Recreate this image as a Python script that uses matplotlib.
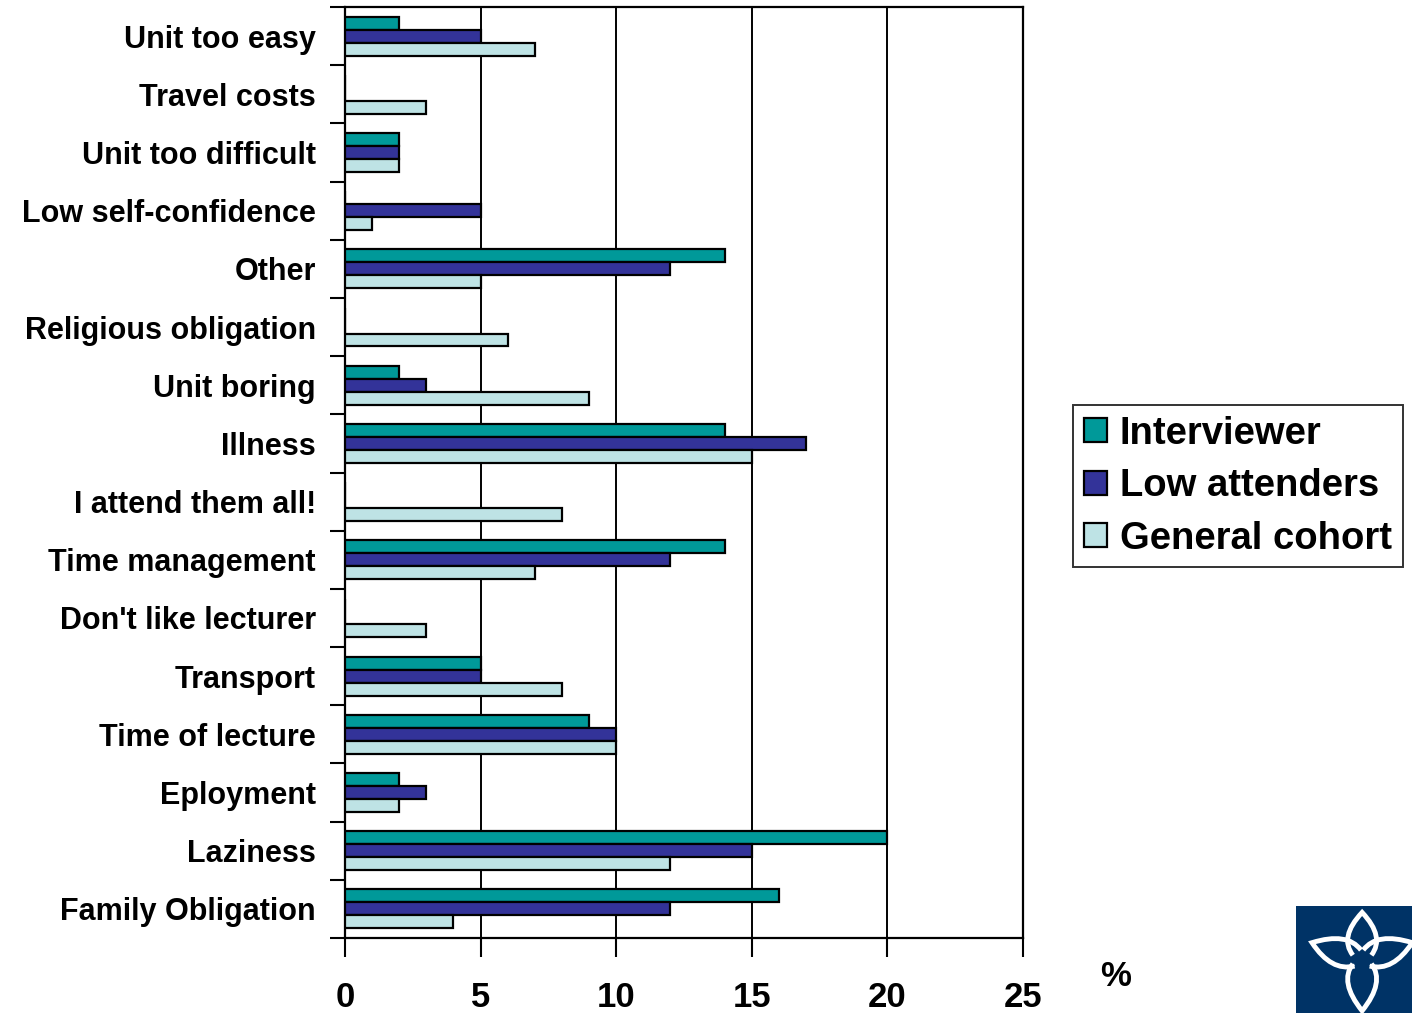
import numpy as np
import matplotlib.pyplot as plt
from matplotlib.path import Path
from matplotlib.patches import PathPatch

plt.rcParams['font.family'] = ['Liberation Sans', 'DejaVu Sans']
plt.rcParams['font.weight'] = 'bold'

categories = ['Unit too easy', 'Travel costs', 'Unit too difficult',
              'Low self-confidence', 'Other', 'Religious obligation',
              'Unit boring', 'Illness', 'I attend them all!',
              'Time management', "Don't like lecturer", 'Transport',
              'Time of lecture', 'Eployment', 'Laziness', 'Family Obligation']
interviewer = [2, 0, 2, 0, 14, 0, 2, 14, 0, 14, 0, 5, 9, 2, 20, 16]
low_attenders = [5, 0, 2, 5, 12, 0, 3, 17, 0, 12, 0, 5, 10, 3, 15, 12]
general_cohort = [7, 3, 2, 1, 5, 6, 9, 15, 8, 7, 3, 8, 10, 2, 12, 4]
series_names = ['Interviewer', 'Low attenders', 'General cohort']
colors = ['#009999', '#333399', '#BEE3E5']
x_ticks = [0, 5, 10, 15, 20, 25]

fig = plt.figure(figsize=(14.12, 10.13), dpi=100)
ax = fig.add_axes([345 / 1412, 1 - 938 / 1013, (1023 - 345) / 1412, (938 - 7) / 1013])

y = np.arange(len(categories))
h = 0.223
for k, (vals, name, col) in enumerate(zip([interviewer, low_attenders, general_cohort],
                                          series_names, colors)):
    ax.barh(y + (k - 1) * h, vals, height=h, color=col, edgecolor='black',
            linewidth=1.6, label=name, zorder=3)

ax.set_xlim(0, 25)
ax.set_ylim(len(categories) - 0.5, -0.5)
ax.set_xticks(x_ticks)
ax.set_xticklabels([str(t) for t in x_ticks], fontsize=25, fontweight='bold')
ax.tick_params(axis='x', direction='out', length=14, width=1.5, pad=17)
ax.set_yticks(y)
ax.set_yticklabels(categories, fontsize=22, fontweight='bold')
ax.tick_params(axis='y', which='major', length=0, pad=21)
ax.set_yticks(np.arange(-0.5, len(categories), 1.0), minor=True)
ax.tick_params(axis='y', which='minor', direction='out', length=11, width=1.5)
for v in x_ticks[1:-1]:
    ax.axvline(v, color='black', linewidth=1.4, zorder=1)
for s in ax.spines.values():
    s.set_linewidth(1.6)

fig.text(1116 / 1412, 1 - 976 / 1013, '%', fontsize=25, fontweight='bold',
         ha='center', va='center')

leg = fig.legend(loc='upper left', bbox_to_anchor=(1073 / 1412, 1 - 405 / 1013),
                 fontsize=27.5, frameon=True, fancybox=False, edgecolor='black',
                 handlelength=0.6, handleheight=0.6, handletextpad=0.35,
                 labelspacing=0.43, borderpad=0.28, borderaxespad=0)
leg.get_frame().set_linewidth(1.4)

# logo in the corner
lax = fig.add_axes([1296 / 1412, 0, 1 - 1296 / 1412, 1 - 906 / 1013])
lax.set_facecolor('#003366')
lax.set_xlim(0, 1)
lax.set_ylim(0, 1)
lax.set_xticks([])
lax.set_yticks([])
for s in lax.spines.values():
    s.set_visible(False)
cx, cy = 0.57, 0.5
for ang, ln in [(90, 0.44), (270, 0.48), (160, 0.46), (20, 0.46)]:
    a = np.deg2rad(ang)
    d = np.array([np.cos(a), np.sin(a)])
    p = np.array([-d[1], d[0]])
    base = np.array([cx, cy]) + d * 0.04
    tip = np.array([cx, cy]) + d * ln
    w = 0.2
    verts = [base + p * w * 0.4, base + p * w + d * 0.17, tip,
             base - p * w + d * 0.17, base - p * w * 0.4]
    path = Path(verts, [Path.MOVETO, Path.CURVE3, Path.LINETO, Path.CURVE3, Path.LINETO])
    lax.add_patch(PathPatch(path, facecolor='none', edgecolor='white', linewidth=3.5))

fig.savefig('out.png', dpi=100)
